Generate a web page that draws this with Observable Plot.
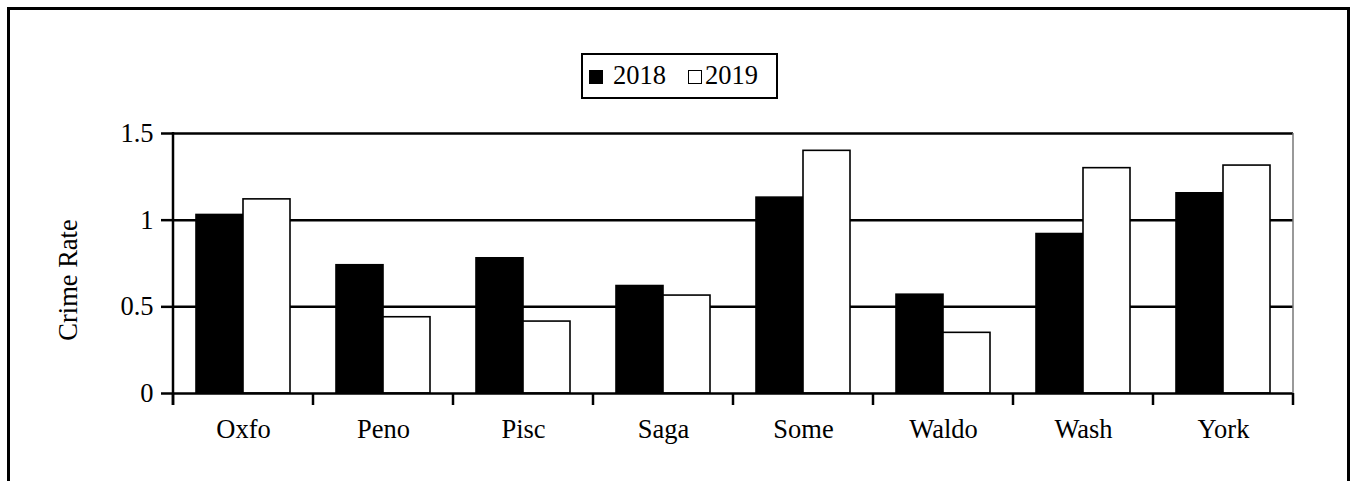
<!DOCTYPE html>
<html><head><meta charset="utf-8">
<script src="https://cdn.jsdelivr.net/npm/d3@7"></script>
<script src="https://cdn.jsdelivr.net/npm/@observablehq/plot@0.6"></script>
<style>
html,body{margin:0;padding:0;background:#fff;overflow:hidden;}
#wrap{position:relative;width:1351px;height:481px;overflow:hidden;font-family:"Liberation Serif","Times New Roman",serif;}
#outer{position:absolute;left:7px;top:7px;width:1337px;height:520px;border:3px solid #000;}
#chart{position:absolute;left:0;top:0;}
#legend{position:absolute;left:581px;top:53px;width:193px;height:42px;border:2px solid #000;background:#fff;}
.sw{position:absolute;width:14px;height:14px;box-sizing:border-box;border:1.5px solid #000;}
.lt{position:absolute;font-size:26.5px;line-height:1;white-space:nowrap;}
</style></head>
<body><div id="wrap"><div id="outer"></div><div id="chart"></div><div id="legend"></div></div>
<script>
const categories = ["Oxfo","Peno","Pisc","Saga","Some","Waldo","Wash","York"];
const years = ["2018","2019"];
const rate2018 = [1.03,0.74,0.78,0.62,1.13,0.57,0.92,1.155];
const rate2019 = [1.12,0.44,0.415,0.565,1.40,0.35,1.30,1.315];
const yTicks = [0,0.5,1,1.5];
const yLabel = "Crime Rate";
const seriesFill = ["#000","#fff"];

const data = categories.flatMap((c,i)=>[
  {cat:c, year:years[0], value:rate2018[i]},
  {cat:c, year:years[1], value:rate2019[i]}
]);

const plot = Plot.plot({
  width:1351, height:481,
  marginLeft:172, marginRight:57, marginTop:133, marginBottom:88,
  style:{fontFamily:'"Liberation Serif","Times New Roman",serif', fontSize:"26.5px", background:"transparent", color:"#000", overflow:"visible"},
  fx:{domain:categories, padding:0, label:null},
  x:{domain:years, paddingInner:0, paddingOuter:0.47, axis:null},
  y:{domain:[0,1.5], label:null},
  color:{domain:years, range:seriesFill},
  marks:[
    Plot.ruleY(yTicks.slice(1), {stroke:"#000", strokeWidth:2.5}),
    Plot.barY(data, {fx:"cat", x:"year", y:"value", fill:"year", stroke:"#000", strokeWidth:1.6}),
    Plot.ruleY([0], {stroke:"#000", strokeWidth:2.5}),
    Plot.axisY({ticks:yTicks, tickSize:12, tickPadding:8, strokeWidth:2.5, tickFormat:d=>String(d), label:null}),
    Plot.axisFx({anchor:"bottom", tickSize:0, tickPadding:26, label:null})
  ]
});
document.getElementById("chart").appendChild(plot);

// decorations using the plot's own scales
const fx = plot.scale("fx"), y = plot.scale("y");
const svg = d3.select(plot);
const x0 = fx.apply(categories[0]);
const xEnd = fx.apply(categories[categories.length-1]) + fx.bandwidth;
const g = svg.append("g").attr("stroke","#000").attr("stroke-width",2.5);
g.append("line").attr("x1",x0).attr("x2",x0).attr("y1",y.apply(1.5)-1).attr("y2",y.apply(0)+12);
svg.append("line").attr("x1",xEnd).attr("x2",xEnd).attr("y1",y.apply(1.5)).attr("y2",y.apply(0))
  .attr("stroke","#777").attr("stroke-width",1.5);
categories.concat([null]).forEach((c)=>{
  const xx = c===null ? xEnd : fx.apply(c);
  g.append("line").attr("x1",xx).attr("x2",xx).attr("y1",y.apply(0)).attr("y2",y.apply(0)+12);
});
svg.append("text").attr("transform",`translate(68,${(y.apply(0)+y.apply(1.5))/2+17}) rotate(-90)`)
  .attr("text-anchor","middle").attr("dy","0.35em").attr("fill","#000")
  .style("font-size","26.5px").text(yLabel);

// legend
const leg = document.getElementById("legend");
const legPos = [{sw:6, tx:30},{sw:105, tx:122}];
years.forEach((yr,i)=>{
  const s = document.createElement("div");
  s.className="sw"; s.style.left=legPos[i].sw+"px"; s.style.top="15px"; s.style.background=seriesFill[i];
  leg.appendChild(s);
  const t = document.createElement("div");
  t.className="lt"; t.style.left=legPos[i].tx+"px"; t.style.top="7px"; t.textContent=yr;
  leg.appendChild(t);
});
</script>
</body></html>
